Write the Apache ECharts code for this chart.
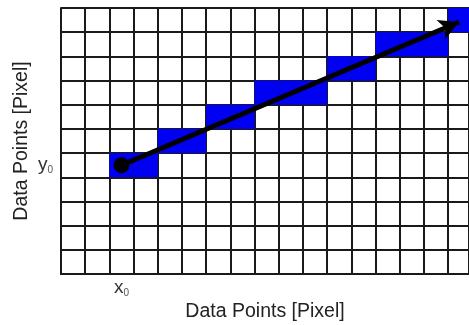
<!DOCTYPE html>
<html>
<head>
<meta charset="utf-8">
<script src="https://cdn.jsdelivr.net/npm/echarts@6/dist/echarts.min.js"></script>
<style>
html,body{margin:0;padding:0;background:#fff;}
#c{width:469px;height:325px;}
</style>
</head>
<body>
<div id="c"></div>
<script>
// Highlighted pixel cells [column, row] (row 0 = bottom)
const cellCols = [2, 3, 4, 5, 6, 7, 8, 9, 10, 11, 12, 13, 14, 15, 16];
const cellRows = [4, 4, 5, 5, 6, 6, 7, 7, 7, 8, 8, 9, 9, 9, 10];
// Arrow from the start point (x0, y0) to its end
const arrowStart = [2.5, 4.5];
const arrowEnd = [16.45, 10.42];
// Tick labels
const xTickValues = [2.5];
const yTickValues = [4.5];
const xTickLabel = 'x';
const yTickLabel = 'y';
const tickSub = '0';
const axisTitle = 'Data Points [Pixel]';

const cells = cellCols.map((c, i) => [c, cellRows[i]]);
const chart = echarts.init(document.getElementById('c'));
const lineColor = '#1a1a1a';
const richSub = {
  m: {fontSize: 19, color: '#333', fontFamily: 'Liberation Sans'},
  s: {fontSize: 10, color: '#555', fontFamily: 'Liberation Sans', padding: [10, 0, 0, 0]}
};
chart.setOption({
  animation: false,
  grid: {left: 61, right: 0, top: 8, bottom: 51, containLabel: false, outerBoundsMode: 'none'},
  xAxis: {
    type: 'value', min: 0, max: 16.86, interval: 1,
    name: axisTitle, nameLocation: 'middle', nameGap: 28, nameMoveOverlap: false,
    nameTextStyle: {fontSize: 19.5, color: '#222', fontFamily: 'Liberation Sans'},
    axisLine: {show: true, onZero: false, lineStyle: {color: lineColor, width: 2}},
    axisTick: {show: false},
    splitLine: {show: true, lineStyle: {color: lineColor, width: 2}},
    axisLabel: {
      customValues: xTickValues, margin: 4,
      formatter: () => '{m|' + xTickLabel + '}{s|' + tickSub + '}',
      rich: richSub
    }
  },
  yAxis: {
    type: 'value', min: 0, max: 11, interval: 1,
    name: axisTitle, nameLocation: 'middle', nameGap: 29, nameMoveOverlap: false,
    nameTextStyle: {fontSize: 19.5, color: '#222', fontFamily: 'Liberation Sans'},
    axisLine: {show: true, onZero: false, lineStyle: {color: lineColor, width: 2}},
    axisTick: {show: false},
    splitLine: {show: true, lineStyle: {color: lineColor, width: 2}},
    axisLabel: {
      customValues: yTickValues, margin: 8,
      formatter: () => '{m|' + yTickLabel + '}{s|' + tickSub + '}',
      rich: richSub
    }
  },
  series: [{
    type: 'custom',
    data: cells,
    renderItem: function (params, api) {
      const p = api.coord([api.value(0), api.value(1) + 1]);
      const s = api.size([1, 1]);
      return {type: 'rect', shape: {x: p[0], y: p[1], width: s[0], height: s[1]}, style: {fill: '#0000f2'}};
    },
    silent: true,
    markLine: {
      silent: true,
      symbol: ['circle', 'arrow'],
      symbolSize: [16, 20],
      label: {show: false},
      lineStyle: {color: '#000', width: 5, type: 'solid'},
      data: [[{coord: arrowStart}, {coord: arrowEnd}]]
    }
  }]
});
</script>
</body>
</html>
